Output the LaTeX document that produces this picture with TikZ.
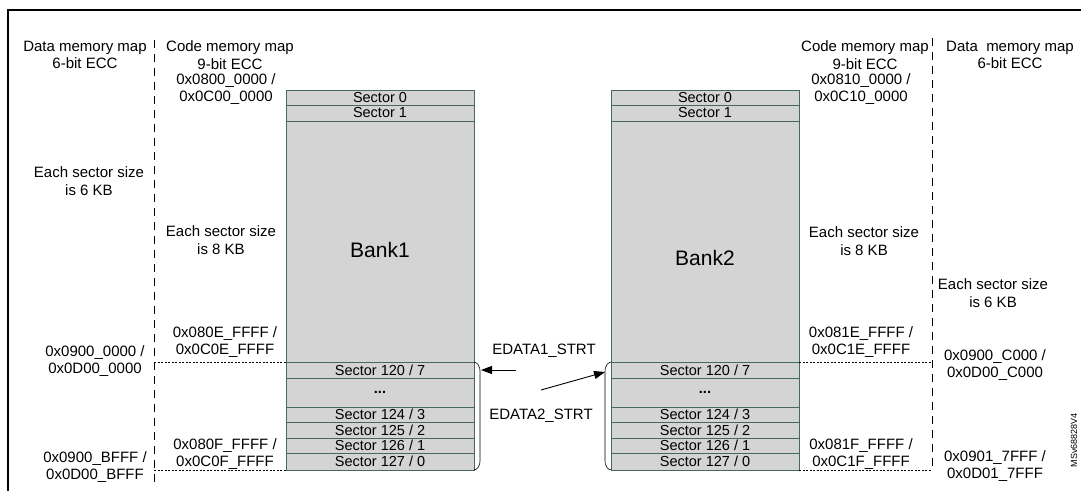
\documentclass[tikz,border=0pt]{standalone}
\usepackage{fontspec}
\setmainfont{Liberation Sans}
\usetikzlibrary{arrows.meta}
\definecolor{secfill}{RGB}{212,212,212}
\definecolor{secline}{RGB}{70,105,90}
\begin{document}
\begin{tikzpicture}[x=1pt,y=-1pt,
  lbl/.style={font=\fontsize{15}{17.5}\selectfont,align=center,inner sep=0pt},
  slbl/.style={font=\fontsize{14.5}{16}\selectfont,inner sep=0pt},
  dl/.style={dash pattern=on 8pt off 6pt,line width=0.6pt},
  hd/.style={dash pattern=on 2pt off 1.5pt,line width=0.6pt},
  arr/.style={-{Triangle[length=11pt,width=8pt]},line width=0.9pt}]
\useasboundingbox (0,0) rectangle (1081,490);
\draw[line width=1.5pt] (8,495) -- (8,10) -- (1081,10);
% banks
\foreach \bx in {286,611}{
  \fill[secfill] (\bx,90) rectangle ++(188,380);
  \draw[secline,line width=0.8pt] (\bx,90) rectangle ++(188,380);
  \foreach \y in {90,105,121,362,378,407,422,438,453}{
    \draw[secline,line width=1pt] (\bx,\y) -- ++(188,0);}
  \foreach \y/\t in {97.5/{Sector 0},113/{Sector 1},370/{Sector 120 / 7},392/{\textbf{...}},414.5/{Sector 124 / 3},430/{Sector 125 / 2},445.5/{Sector 126 / 1},461.5/{Sector 127 / 0}}{
    \node[slbl] at (\bx+94,\y) {\t};}
}
\node[lbl,font=\fontsize{21}{24}\selectfont] (b1) at (380,250) {Bank1};
\node[lbl,font=\fontsize{21}{24}\selectfont] (b2) at (705,258) {Bank2};
% dashed lines
\draw[dl] (154,40) -- (154,485);
\draw[dl] (932,38) -- (932,470);
\draw[hd] (154,362) -- (286,362);
\draw[hd] (154,470) -- (286,470);
\draw[hd] (799,362) -- (932,362);
\draw[hd] (799,470) -- (932,470);
% braces
\draw[line width=0.6pt] (474,362) .. controls (481,364) and (480,370) .. (480,380) -- (480,452) .. controls (480,462) and (481,468) .. (474,470);
\draw[line width=0.6pt] (611,362) .. controls (604,364) and (605,370) .. (605,380) -- (605,452) .. controls (605,462) and (604,468) .. (611,470);
\coordinate (e1a) at (516,370); \coordinate (e1b) at (481,370);
\coordinate (e2a) at (541,390); \coordinate (e2b) at (605,372);
\draw[arr] (e1a) -- (e1b);
\draw[arr] (e2a) -- (e2b);
\node[lbl] (ed1) at (544,351) {EDATA1\_STRT};
\node[lbl] (ed2) at (541,416) {EDATA2\_STRT};
% left texts
\node[lbl] (t1) at (85,55) {Data memory map\\6-bit ECC};
\node[lbl] (t2) at (230,55) {Code memory map\\9-bit ECC};
\node[lbl] (t3) at (226,89) {0x0800\_0000 /\\0x0C00\_0000};
\node[lbl] (t4) at (89,181) {Each sector size\\is 6 KB};
\node[lbl] (t5) at (221,240) {Each sector size\\is 8 KB};
\node[lbl] (t6) at (225,342) {0x080E\_FFFF /\\0x0C0E\_FFFF};
\node[lbl] (t7) at (95,361) {0x0900\_0000 /\\0x0D00\_0000};
\node[lbl] (t8) at (225,454) {0x080F\_FFFF /\\0x0C0F\_FFFF};
\node[lbl] (t9) at (95,467) {0x0900\_BFFF /\\0x0D00\_BFFF};
% right texts
\node[lbl] (r1) at (865,55) {Code memory map\\9-bit ECC};
\node[lbl] (r2) at (1010,55) {Data\ \ memory map\\6-bit ECC};
\node[lbl] (r3) at (861,89) {0x0810\_0000 /\\0x0C10\_0000};
\node[lbl] (r4) at (864,241) {Each sector size\\is 8 KB};
\node[lbl] (r5) at (993,293) {Each sector size\\is 6 KB};
\node[lbl] (r6) at (861,342) {0x081E\_FFFF /\\0x0C1E\_FFFF};
\node[lbl] (r7) at (995,365) {0x0900\_C000 /\\0x0D00\_C000};
\node[lbl] (r8) at (861,454) {0x081F\_FFFF /\\0x0C1F\_FFFF};
\node[lbl] (r9) at (995,466) {0x0901\_7FFF /\\0x0D01\_7FFF};
\node[lbl,font=\fontsize{9}{10}\selectfont,rotate=90] (ms) at (1074,440) {MSv68828V4};
\end{tikzpicture}
\end{document}
